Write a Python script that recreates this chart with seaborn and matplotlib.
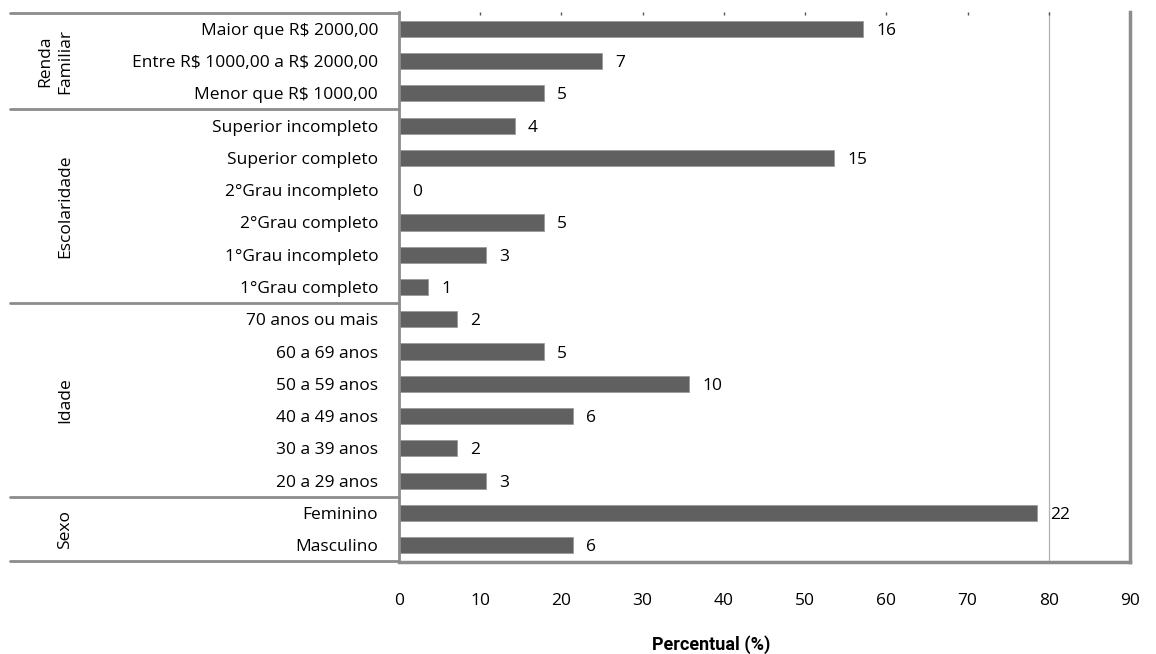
import matplotlib
matplotlib.use("Agg")
import matplotlib.pyplot as plt
import seaborn as sns
import pandas as pd

# Respondent counts per category (total respondents used for the percentages)
total = 28

renda_labels = ["Maior que R$ 2000,00", "Entre R$ 1000,00 a R$ 2000,00", "Menor que R$ 1000,00"]
renda_counts = [16, 7, 5]

escolaridade_labels = ["Superior incompleto", "Superior completo", "2°Grau incompleto",
                       "2°Grau completo", "1°Grau incompleto", "1°Grau completo"]
escolaridade_counts = [4, 15, 0, 5, 3, 1]

idade_labels = ["70 anos ou mais", "60 a 69 anos", "50 a 59 anos",
                "40 a 49 anos", "30 a 39 anos", "20 a 29 anos"]
idade_counts = [2, 5, 10, 6, 2, 3]

sexo_labels = ["Feminino", "Masculino"]
sexo_counts = [22, 6]

groups = [
    ("Renda\nFamiliar", renda_labels, renda_counts),
    ("Escolaridade", escolaridade_labels, escolaridade_counts),
    ("Idade", idade_labels, idade_counts),
    ("Sexo", sexo_labels, sexo_counts),
]

x_ticks = [0, 10, 20, 30, 40, 50, 60, 70, 80, 90]

rows = []
for gname, labels, counts in groups:
    for lab, c in zip(labels, counts):
        rows.append({"grupo": gname, "categoria": lab, "n": c, "pct": c / total * 100})
df = pd.DataFrame(rows)

sns.set_theme(style="white")
plt.rcParams["font.family"] = ["Open Sans", "DejaVu Sans"]
plt.rcParams["text.parse_math"] = False

W, H = 1156, 654
FS = 12.5
fig = plt.figure(figsize=(W / 100, H / 100), dpi=100)
ax = fig.add_axes([399 / W, 92 / H, (1130 - 399) / W, (562 - 12) / H])

sns.barplot(data=df, y="categoria", x="pct", orient="h", color="#606060",
            saturation=1, width=0.5, edgecolor="#9a9a9a", linewidth=0.6, ax=ax)

n_rows = len(df)
ax.set_ylim(n_rows - 0.5 + 0.02, -0.5 - 0.02)
ax.set_xlim(0, 90)
ax.set_xticks(x_ticks)
ax.set_xticklabels([str(t) for t in x_ticks], fontsize=FS)
ax.set_ylabel("")
ax.set_xlabel("")

ax.tick_params(axis="y", length=0, pad=15, labelsize=FS, labelcolor="black")
ax.tick_params(axis="x", bottom=False, top=True, length=2, width=1, color="#555555",
               pad=22, labelsize=FS, labelcolor="black", direction="in")

# reference line at 80 %
ax.axvline(80, color="#b0b0b0", linewidth=0.9, zorder=0)

# frame
ax.spines["top"].set_visible(False)
ax.spines["left"].set_color("#8c8c8c")
ax.spines["left"].set_linewidth(2)
ax.spines["right"].set_color("#8c8c8c")
ax.spines["right"].set_linewidth(2.5)
ax.spines["bottom"].set_color("#8c8c8c")
ax.spines["bottom"].set_linewidth(2.5)

# value labels (counts) at the bar ends
for i, r in df.iterrows():
    ax.text(r["pct"] + 1.6, i, str(r["n"]), va="center_baseline", ha="left",
            fontsize=FS, color="black")

# group separators and group titles in the label column
trans = ax.get_yaxis_transform()
span = 1130 - 399
x_left = (10 - 399) / span
ax.plot([x_left, 0], [-0.5, -0.5], transform=trans, color="#8c8c8c", lw=2, clip_on=False)
start = 0
for gname, labels, counts in groups:
    end = start + len(labels)
    ax.plot([x_left, 0], [end - 0.5, end - 0.5], transform=trans, color="#8c8c8c",
            lw=2, clip_on=False)
    mid = (start + end - 1) / 2
    xpos = 55 if "\n" in gname else 65
    ax.text((xpos - 399) / span, mid, gname, transform=trans, rotation=90,
            ha="center", va="center", fontsize=FS, color="black", linespacing=1.35)
    start = end

fig.text(711 / W, 1 - 645 / H, "Percentual (%)", ha="center", va="center",
         fontsize=13, fontweight="bold", color="black", family=["Roboto", "DejaVu Sans"],
         fontstretch="condensed")

fig.savefig("out.png", dpi=100, facecolor="white")
